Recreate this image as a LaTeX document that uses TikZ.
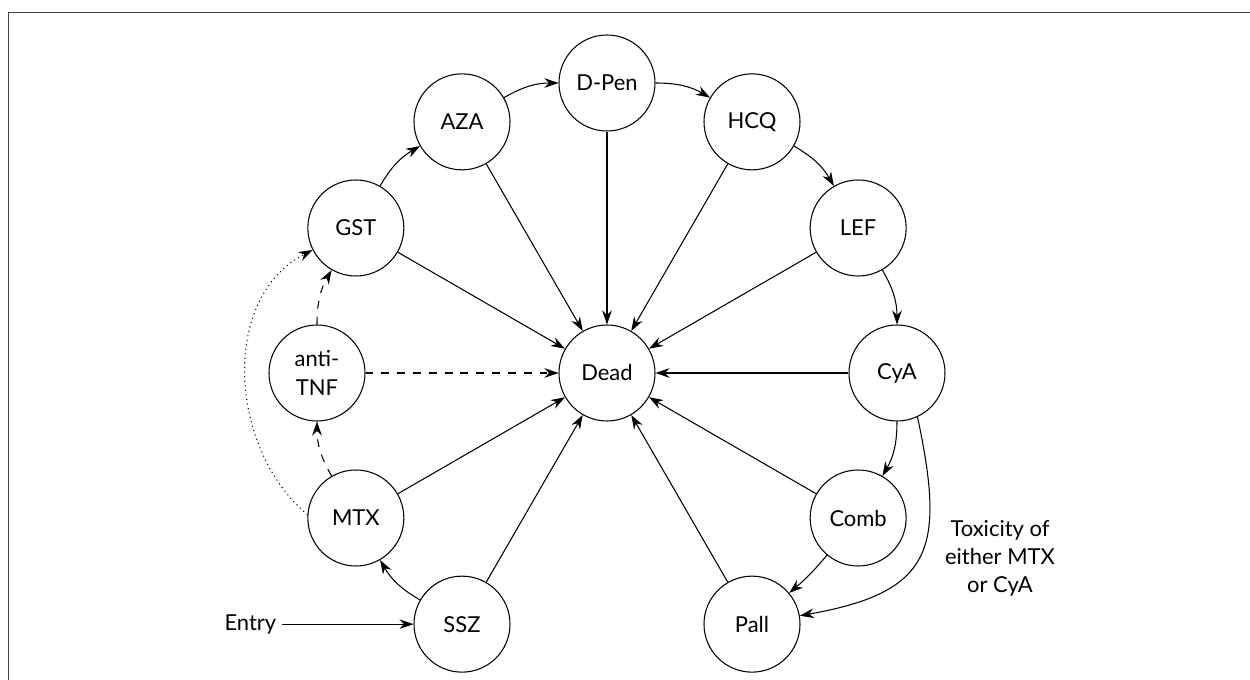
\documentclass[tikz,border=0pt]{standalone}
\usepackage{fontspec}
\setmainfont{Lato}
\usetikzlibrary{arrows.meta,positioning}

\begin{document}
\begin{tikzpicture}[
node distance=2.62cm,
every node/.style={font=\fontsize{12.5}{16}\selectfont},
drug/.style={draw, circle, minimum size=1.92cm, inner sep=0pt, align=center, line width=0.6pt},
arr/.style={-{Stealth[length=8pt,width=5.5pt]}, line width=0.6pt},
dasharr/.style={arr, dash pattern=on 4.5pt off 4.5pt},
dotarr/.style={arr, dotted},
frame/.style={draw=black!75, line width=1pt}
]
\useasboundingbox (-12.14,-6.14) rectangle (12.86,7.46);
\draw[frame] (-11.97,-6.3) |- (13,7.21);

\node[drug] (dead) at (0,0) {Dead};
\node[drug] (dpen) at (90:5.8) {D-Pen};
\node[drug] (aza) at (120:5.8) {AZA};
\node[drug] (gst) at (150:5.8) {GST};
\node[drug] (antitnf) at (180:5.8) {anti-\\TNF};
\node[drug] (mtx) at (210:5.8) {MTX};
\node[drug] (ssz) at (240:5.8) {SSZ};
\node[drug] (hcq) at (60:5.8) {HCQ};
\node[drug] (lef) at (30:5.8) {LEF};
\node[drug] (cya) at (0:5.8) {CyA};
\node[drug] (comb) at (-30:5.8) {Comb};
\node[drug] (pall) at (-60:5.8) {Pall};
\node[left=of ssz] (entry) {Entry};
\node[align=center] (tox) at (7.86,-3.70) {Toxicity of\\either MTX\\or CyA};

% round the ring
\draw[arr] (entry) -- (ssz);
\draw[arr] (ssz) to[bend left=15] (mtx);
\draw[arr] (gst) to[bend left=15] (aza);
\draw[arr] (aza) to[bend left=15] (dpen);
\draw[arr] (dpen) to[bend left=15] (hcq);
\draw[arr] (hcq) to[bend left=15] (lef);
\draw[arr] (lef) to[bend left=15] (cya);
\draw[arr] (cya) to[bend left=15] (comb);
\draw[arr] (comb) to[bend left=5] (pall);
\draw[arr] (cya.-65) to[out=-78, in=10, looseness=1.5] (pall.10);
\draw[dasharr] (mtx) to[bend left=15] (antitnf);
\draw[dasharr] (antitnf) to[bend left=15] (gst);
\draw[dotarr] (mtx.176) to[out=140, in=207] (gst.207);

% into Dead
\draw[arr] (dpen) -- (dead);
\draw[arr] (aza) -- (dead);
\draw[arr] (gst) -- (dead);
\draw[dasharr] (antitnf) -- (dead);
\draw[arr] (mtx) -- (dead);
\draw[arr] (ssz) -- (dead);
\draw[arr] (hcq) -- (dead);
\draw[arr] (lef) -- (dead);
\draw[arr] (cya) -- (dead);
\draw[arr] (comb) -- (dead);
\draw[arr] (pall) -- (dead);
\end{tikzpicture}
\end{document}
